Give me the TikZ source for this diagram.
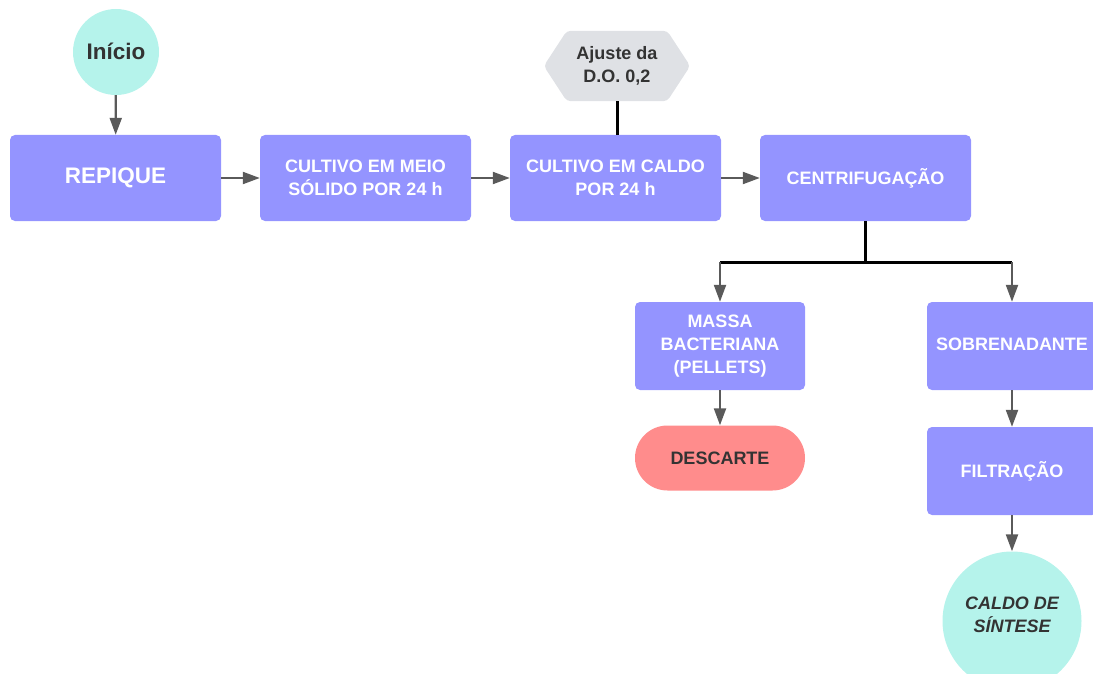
\documentclass[tikz,border=0pt]{standalone}
\usepackage{fontspec}
\setmainfont{Liberation Sans}
\usetikzlibrary{arrows.meta,backgrounds,shapes.misc}
\definecolor{boxfill}{HTML}{9494FF}
\definecolor{termfill}{HTML}{B5F3EB}
\definecolor{hexfill}{HTML}{DFE1E5}
\definecolor{endfill}{HTML}{FF8C8C}
\definecolor{darktext}{HTML}{333333}
\definecolor{arrowgray}{HTML}{5A5A5A}
\begin{document}
\begin{tikzpicture}[x=1pt,y=-1pt,
  procbox/.style={fill=boxfill, rounded corners=5pt, minimum width=211pt,
    minimum height=86pt, inner sep=0pt, align=center, text=white,
    font=\bfseries\fontsize{18}{22.7}\selectfont},
  smallbox/.style={procbox, minimum width=170pt, minimum height=88pt},
  terminal/.style={circle, fill=termfill, inner sep=0pt, align=center,
    text=darktext},
  flow/.style={draw=arrowgray, line width=2.2pt,
    -{Triangle[length=17pt,width=12pt]}},
  joinline/.style={draw=black, line width=3pt}]

\useasboundingbox (0,0) rectangle (1093,674);
\clip (0,0) rectangle (1093,674);

% start and main chain
\node[terminal, minimum size=86pt, font=\bfseries\fontsize{22.5}{27}\selectfont]
  (ini) at (116,52) {\raisebox{2pt}{Início}};
\node[procbox, font=\bfseries\fontsize{22.5}{27}\selectfont] (rep) at (115.5,178) {REPIQUE};
\node[procbox] (sol) at (365.5,178) {CULTIVO EM MEIO\\SÓLIDO POR 24 h};
\node[procbox] (cal) at (615.5,178) {CULTIVO EM CALDO\\POR 24 h};
\node[procbox] (cen) at (865.5,178) {CENTRIFUGAÇÃO};

% optical density adjustment (hexagon)
\node[minimum width=100pt, minimum height=70pt, inner sep=0pt, align=center,
  text=darktext, font=\bfseries\fontsize{18}{22.7}\selectfont]
  (hex) at (617,66) {Ajuste da\\D.O. 0,2};
\begin{scope}[on background layer]
  \fill[hexfill, rounded corners=4pt] (hex.north west) -- (hex.north east)
    -- ([xshift=23pt]hex.east) -- (hex.south east) -- (hex.south west)
    -- ([xshift=-23pt]hex.west) -- cycle;
\end{scope}

% branches after centrifugation
\node[smallbox] (mas) at (720,346)
  {\raisebox{-4pt}{\begin{tabular}{@{}c@{}}MASSA\\BACTERIANA\\(PELLETS)\end{tabular}}};
\node[smallbox] (sob) at (1012,346) {\raisebox{3pt}{SOBRENADANTE}};
\node[rounded rectangle, fill=endfill, minimum width=170pt, minimum height=65pt,
  inner sep=0pt, text=darktext, font=\bfseries\fontsize{18}{22.7}\selectfont]
  (des) at (720,458) {DESCARTE};
\node[smallbox] (fil) at (1012,471) {\raisebox{3pt}{FILTRAÇÃO}};
\node[terminal, minimum size=139pt,
  font=\bfseries\itshape\fontsize{18}{22.7}\selectfont]
  (sin) at (1012,621) {CALDO DE\\SÍNTESE\\[-10pt]};

\coordinate (split) at (865.5,262);
\coordinate (lj) at (720,262);
\coordinate (rj) at (1012,262);

% connectors
\draw[flow] (ini) -- (rep);
\draw[flow] (rep) -- (sol);
\draw[flow] (sol) -- (cal);
\draw[flow] (cal) -- (cen);
\draw[joinline] (hex.south) -- (hex.south |- cal.north);
\draw[joinline] (cen.south) -- (split);
\draw[joinline] (lj) -- (rj);
\draw[flow] (lj) -- (mas);
\draw[flow] (rj) -- (sob);
\draw[flow] (mas) -- (des);
\draw[flow] (sob) -- (fil);
\draw[flow] (fil) -- (sin);
\end{tikzpicture}
\end{document}
